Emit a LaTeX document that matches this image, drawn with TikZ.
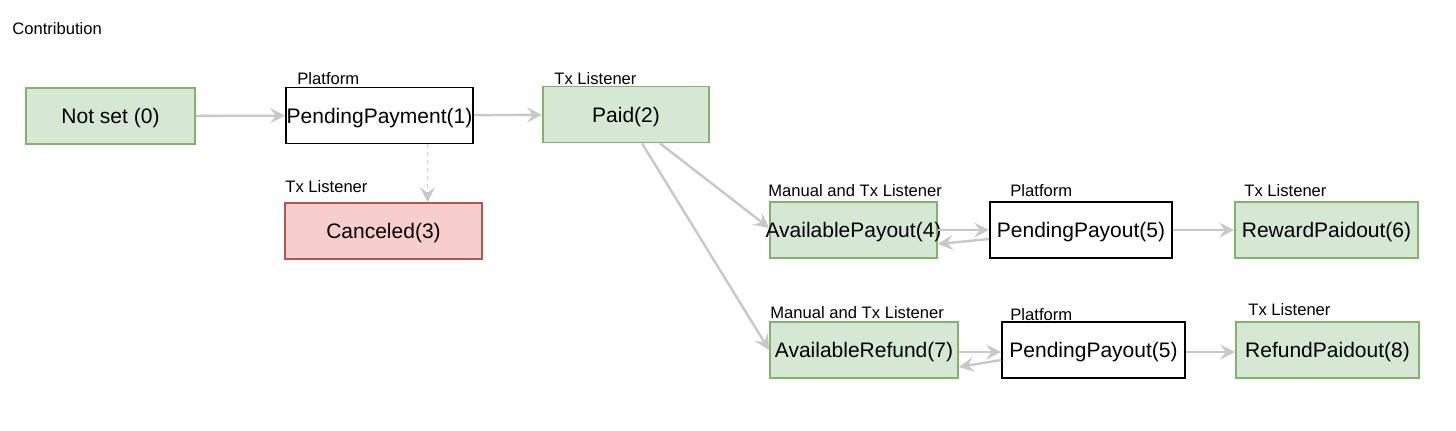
\documentclass[tikz,border=0pt]{standalone}
\usepackage{fontspec}
\setmainfont{Liberation Sans}
\usetikzlibrary{arrows.meta,positioning,calc}
\definecolor{okfill}{HTML}{D5E8D4}
\definecolor{okline}{HTML}{82B366}
\definecolor{badfill}{HTML}{F8CECC}
\definecolor{badline}{HTML}{B85450}
\definecolor{flowgray}{HTML}{C8C8C8}
\newcommand\boxtext[1]{\makebox[0pt]{#1}}

\begin{document}
\begin{tikzpicture}[
        %one unit is one pixel of the drawing, y runs downwards
        x=0.5pt, y=-0.5pt,
        state/.style={draw=okline, fill=okfill, line width=0.85pt, minimum height=28pt,
            inner sep=0pt, text depth=0pt, font=\fontsize{10.5}{12}\selectfont},
        bad state/.style={state, draw=badline, fill=badfill},
        plain state/.style={state, draw=black, fill=white},
        who/.style={anchor=west, inner sep=0pt, font=\fontsize{8.3}{10}\selectfont},
        flow/.style={draw=flowgray, line width=1.2pt,
            -{Stealth[length=7.5pt, width=7.5pt, inset=2.8pt]}},
        weak flow/.style={flow, line width=0.6pt, dash pattern=on 2pt off 2pt}
    ]
    \useasboundingbox (0,0) rectangle (1456,430);

    \node[who] (title) at (12,29) {Contribution};

    % First row
    \node[state, minimum width=84.5pt] (notset) at (110.5,116) {\boxtext{Not set (0)}};
    \node[plain state, minimum width=93.5pt] (pendpay) at (379.5,115.5) {\boxtext{PendingPayment(1)}};
    \node[state, minimum width=83pt] (paid) at (626,114.5) {\boxtext{Paid(2)}};
    \node[bad state, minimum width=98.5pt] (canceled) at (383.5,231) {\boxtext{Canceled(3)}};

    % Payout row
    \node[state, minimum width=83.5pt] (avpay) at (853.5,230) {\boxtext{AvailablePayout(4)}};
    \node[plain state, minimum width=91pt] (pendout) at (1081,230) {\boxtext{PendingPayout(5)}};
    \node[state, minimum width=91.5pt] (reward) at (1326.5,230) {\boxtext{RewardPaidout(6)}};

    % Refund row
    \node[state, minimum width=94pt] (avref) at (864,350) {\boxtext{AvailableRefund(7)}};
    \node[plain state, minimum width=91.5pt] (pendref) at (1093.5,350) {\boxtext{PendingPayout(5)}};
    \node[state, minimum width=91.5pt] (refund) at (1327.5,350) {\boxtext{RefundPaidout(8)}};

    % Who moves the state
    \node[who] (whopendpay) at (297,79) {Platform};
    \node[who] (whopaid) at (554,79) {Tx Listener};
    \node[who] (whocanceled) at (285,187) {Tx Listener};
    \node[who] (whoavpay) at (768,191) {Manual and Tx Listener};
    \node[who] (whopendout) at (1010,191) {Platform};
    \node[who] (whoreward) at (1244,191) {Tx Listener};
    \node[who] (whoavref) at (770,313) {Manual and Tx Listener};
    \node[who] (whopendref) at (1010,315) {Platform};
    \node[who] (whorefund) at (1248,310) {Tx Listener};

    % Transitions
    \draw[flow] (notset) -- (pendpay);
    \draw[flow] (pendpay) -- (paid);
    \coordinate (dropcancel) at ([xshift=24pt]pendpay.south);
    \draw[weak flow] (dropcancel) -- (dropcancel |- canceled.north);
    \draw[flow] ([xshift=17pt]paid.south) -- ([yshift=1pt]avpay.west);
    \draw[flow] ([xshift=8pt]paid.south) -- (avref.west);

    \draw[flow] (avpay.east) -- (pendout.west);
    \draw[flow] ([yshift=-4.5pt]pendout.west) -- ([yshift=-7pt]avpay.east);
    \draw[flow] (pendout) -- (reward);

    \draw[flow] ([yshift=-1pt]avref.east) -- ([yshift=-1pt]pendref.west);
    \draw[flow] ([yshift=-5pt]pendref.west) -- ([yshift=-8.5pt]avref.east);
    \draw[flow] ([yshift=-1pt]pendref.east) -- ([yshift=-1pt]refund.west);
\end{tikzpicture}
\end{document}
